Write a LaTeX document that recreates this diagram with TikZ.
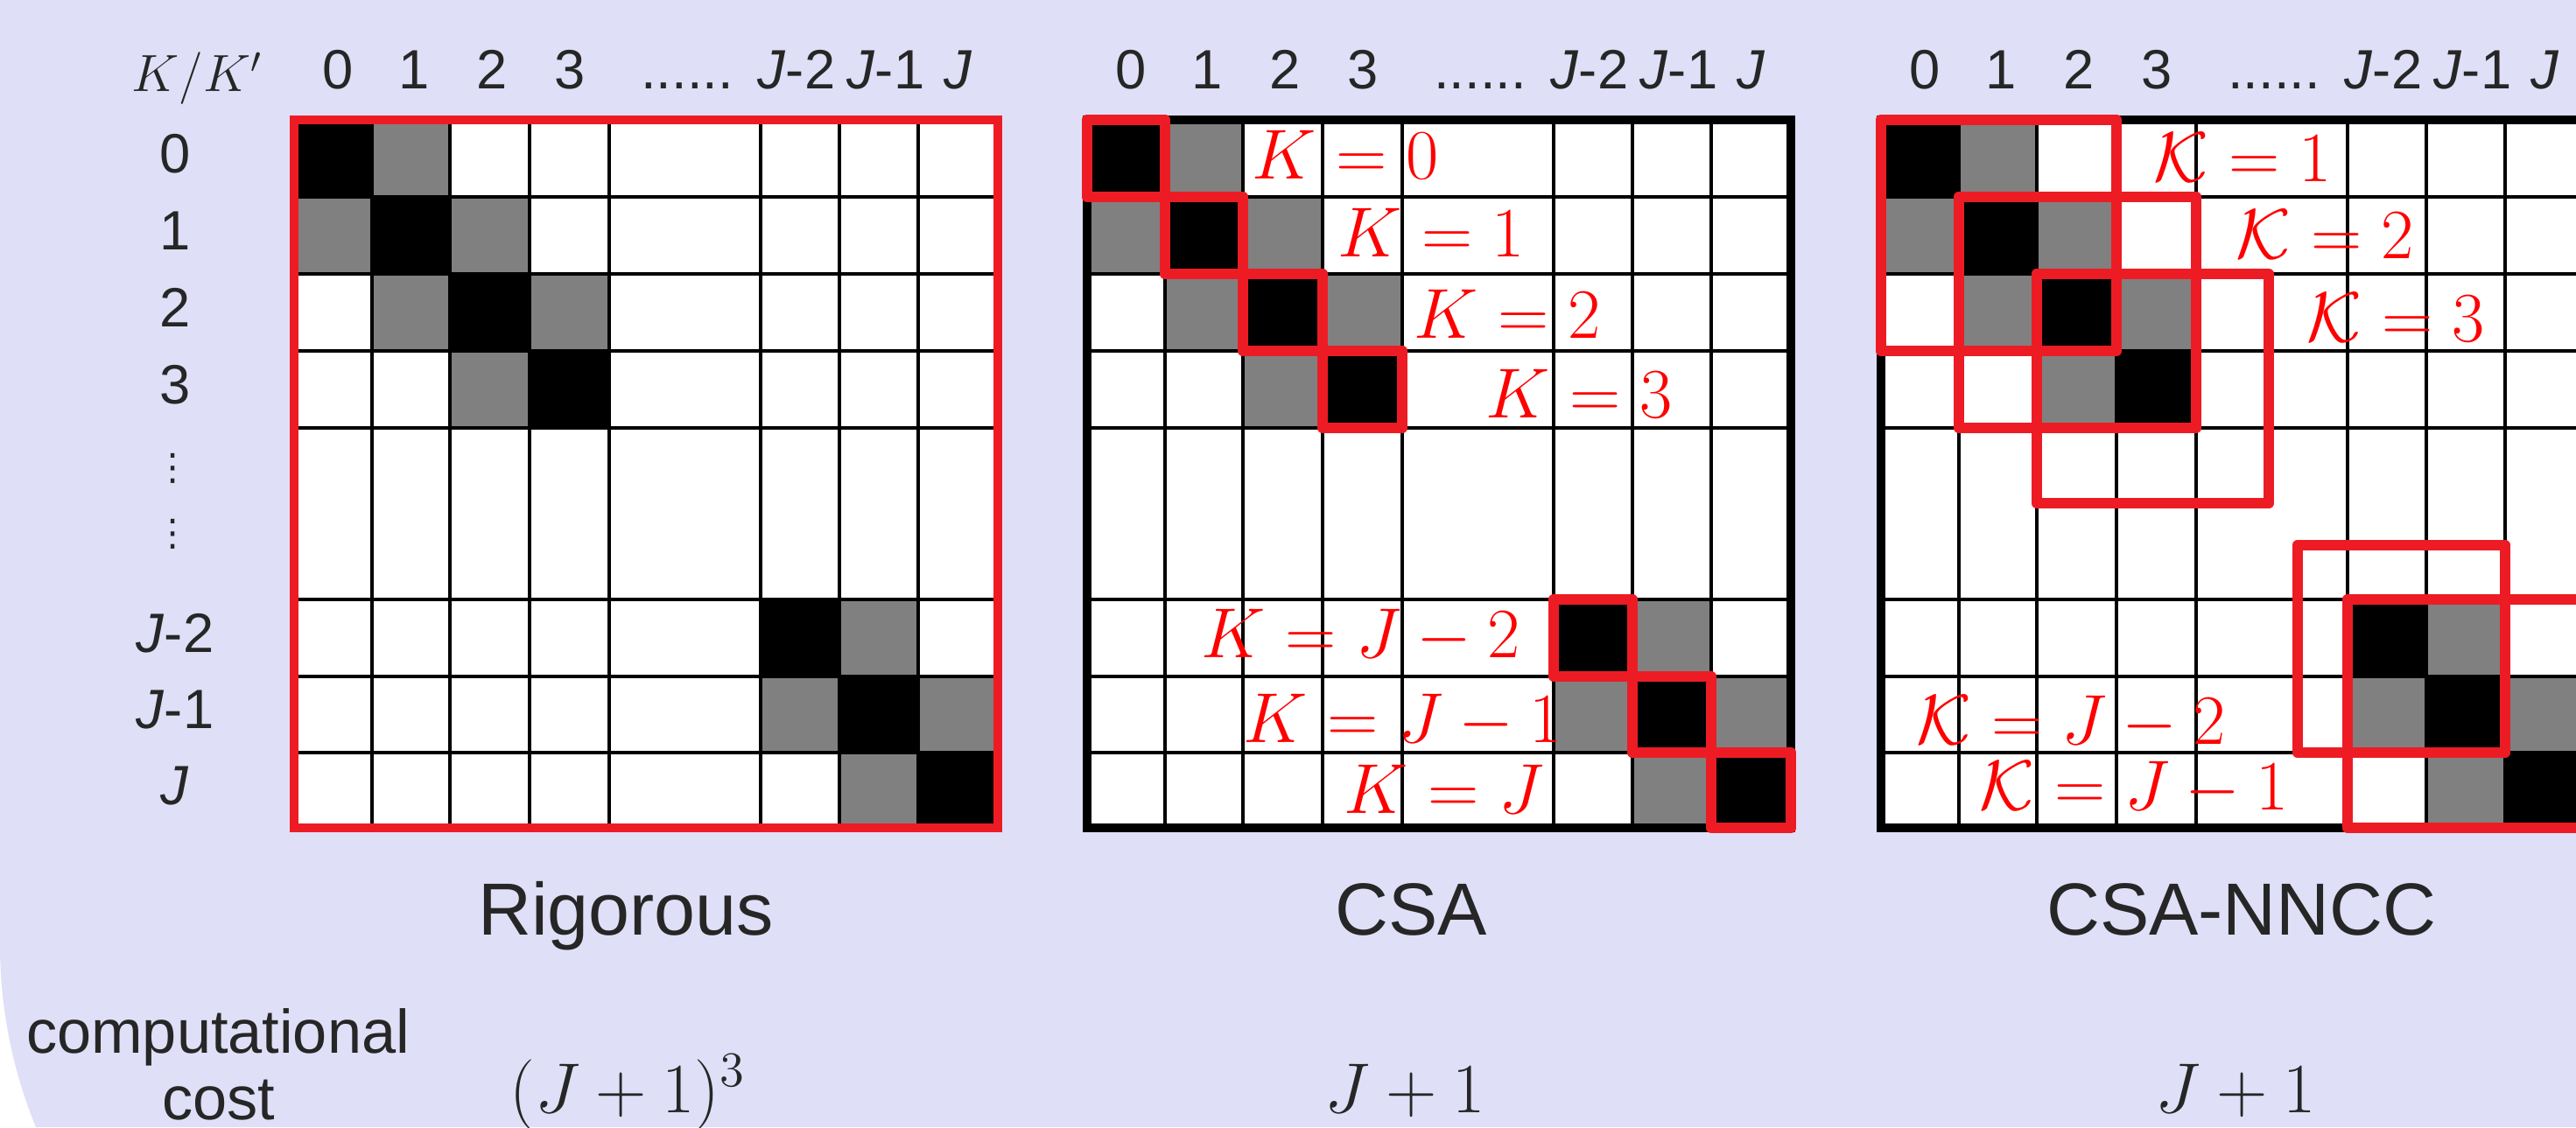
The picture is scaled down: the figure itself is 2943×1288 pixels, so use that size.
\RequirePackage{fix-cm}
\documentclass[tikz,border=0pt]{standalone}
\usepackage{fontspec}
\setmainfont{Liberation Sans}
\newfontfamily\symfont{DejaVu Sans}

\definecolor{lavender}{RGB}{223,223,247}
\definecolor{boxred}{RGB}{237,28,36}
\definecolor{ink}{RGB}{38,38,38}

\begin{document}
\begin{tikzpicture}[x=0.01cm,y=-0.01cm,
    gridline/.style={line width=1.3pt},
    outer/.style={line width=3pt},
    redbox/.style={draw=boxred,line width=3.5pt,line join=round},
    hdr/.style={font=\fontsize{18}{22}\selectfont,text=ink,anchor=base,inner sep=0pt},
    vdot/.style={font=\symfont\fontsize{12}{14}\selectfont,text=ink,inner sep=0pt},
    method/.style={font=\fontsize{24}{29}\selectfont,text=ink,anchor=base,inner sep=0pt},
    costtxt/.style={font=\fontsize{20}{24}\selectfont,text=ink,anchor=base,inner sep=0pt},
    costval/.style={font=\fontsize{23}{28}\selectfont,text=ink,anchor=base,inner sep=0pt},
    kval/.style={font=\fontsize{23}{28}\selectfont,text=red,anchor=base west,inner sep=0pt}
]
    \def\colx{{0,89,178,269,360,533,623,713,804}}
    \def\rowy{{0,88,176,264,352,548,636,723,809}}
    \def\hdrx{{50,137,226,315,449,574,676,759}}
    \def\gy{137}
    \def\skipped{......}

    \useasboundingbox (0,0) rectangle (2943,1288);
    \clip (0,0) rectangle (2943,1288);
    \fill[white] (0,0) rectangle (2943,1288);
    \fill[lavender] (0,0) -- (2943,0) -- (2943,1288) -- (41,1288)
        .. controls (14,1222) and (0,1151) .. (0,1080) -- cycle;

    \foreach \gx/\g/\edge in {336/rig/boxred,1242/csa/black,2149/nncc/black} {
        \fill[white] (\gx,\gy) rectangle (\gx+804,\gy+809);
        \foreach \r/\c/\shade in {
            0/0/black,1/1/black,2/2/black,3/3/black,5/5/black,6/6/black,7/7/black,
            0/1/gray,1/0/gray,1/2/gray,2/1/gray,2/3/gray,3/2/gray,
            5/6/gray,6/5/gray,6/7/gray,7/6/gray} {
            \pgfmathsetmacro{\xa}{\colx[\c]}
            \pgfmathsetmacro{\xb}{\colx[\c+1]}
            \pgfmathsetmacro{\ya}{\rowy[\r]}
            \pgfmathsetmacro{\yb}{\rowy[\r+1]}
            \fill[\shade] (\gx+\xa,\gy+\ya) rectangle (\gx+\xb,\gy+\yb);
        }
        \foreach \i in {1,...,7} {
            \pgfmathsetmacro{\xa}{\colx[\i]}
            \pgfmathsetmacro{\ya}{\rowy[\i]}
            \draw[gridline] (\gx+\xa,\gy) -- (\gx+\xa,\gy+809);
            \draw[gridline] (\gx,\gy+\ya) -- (\gx+804,\gy+\ya);
        }
        \draw[outer,draw=\edge] (\gx,\gy) rectangle (\gx+804,\gy+809);
        \foreach \c/\lbl in {0/0,1/1,2/2,3/3,4/\skipped,
            5/\textit{J}-2,6/\textit{J}-1,7/\textit{J}} {
            \pgfmathsetmacro{\xm}{\hdrx[\c]}
            \node[hdr] (\g-col-\c) at (\gx+\xm,102) {\lbl};
        }
    }

    \node[hdr,font=\fontsize{17}{20}\selectfont] (corner) at (225,105) {$K/K'$};
    \foreach \r/\lbl in {0/0,1/1,2/2,3/3,5/\textit{J}-2,6/\textit{J}-1,7/\textit{J}} {
        \pgfmathsetmacro{\ya}{\rowy[\r]}
        \pgfmathsetmacro{\yb}{\rowy[\r+1]}
        \node[hdr] (row-\r) at (200,{\gy+(\ya+\yb)/2+16}) {\lbl};
    }
    \node[vdot] (row-dots-a) at (198,535) {⋮};
    \node[vdot] (row-dots-b) at (198,610) {⋮};

    \foreach \i in {0,1,2,3,5,6,7} {
        \pgfmathsetmacro{\xa}{\colx[\i]}
        \pgfmathsetmacro{\xb}{\colx[\i+1]}
        \pgfmathsetmacro{\ya}{\rowy[\i]}
        \pgfmathsetmacro{\yb}{\rowy[\i+1]}
        \draw[redbox] (1242+\xa,\gy+\ya) rectangle (1242+\xb,\gy+\yb);
    }
    \node[kval] (csa-k0) at (1430,205) {$K=0$};
    \node[kval] (csa-k1) at (1528,294) {$K=1$};
    \node[kval] (csa-k2) at (1615,386) {$K=2$};
    \node[kval] (csa-k3) at (1697,477) {$K=3$};
    \node[kval] (csa-kj2) at (1372,751) {$K=J-2$};
    \node[kval] (csa-kj1) at (1420,848) {$K=J-1$};
    \node[kval] (csa-kj) at (1535,929) {$K=J$};

    \draw[redbox] (2149,137) rectangle (2418,401);
    \draw[redbox] (2238,225) rectangle (2509,489);
    \draw[redbox] (2327,313) rectangle (2592,575);
    \draw[redbox] (2625,623) rectangle (2862,860);
    \draw[redbox] (2682,685) rectangle (2952,946);
    \node[kval] (nncc-k1) at (2460,208) {$\mathcal{K}=1$};
    \node[kval] (nncc-k2) at (2554,295) {$\mathcal{K}=2$};
    \node[kval] (nncc-k3) at (2635,390) {$\mathcal{K}=3$};
    \node[kval] (nncc-kj2) at (2189,850) {$\mathcal{K}=J-2$};
    \node[kval] (nncc-kj1) at (2261,925) {$\mathcal{K}=J-1$};

    \node[method] (rig-name) at (715,1068) {Rigorous};
    \node[method] (csa-name) at (1612,1068) {CSA};
    \node[method] (nncc-name) at (2561,1068) {CSA-NNCC};

    \node[costtxt] (cost-top) at (249,1203) {computational};
    \node[costtxt] (cost-bot) at (250,1279) {cost};
    \node[costval] (rig-cost) at (717,1271) {$(J+1)^3$};
    \node[costval] (csa-cost) at (1605,1271) {$J+1$};
    \node[costval] (nncc-cost) at (2554,1271) {$J+1$};

\end{tikzpicture}
\end{document}
